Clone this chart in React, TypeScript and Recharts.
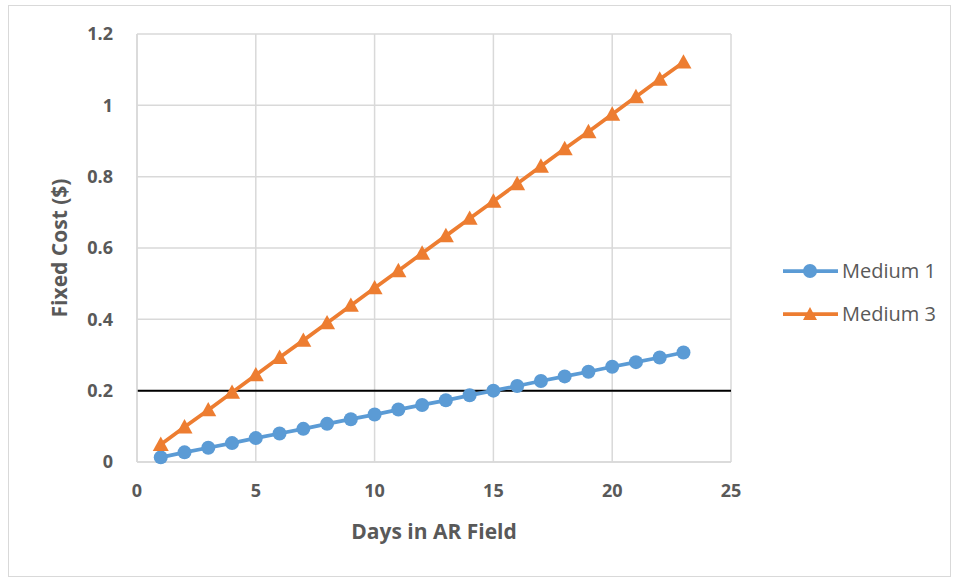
import { LineChart, Line, XAxis, YAxis, CartesianGrid, Legend, ReferenceLine } from 'recharts';

const days = [1, 2, 3, 4, 5, 6, 7, 8, 9, 10, 11, 12, 13, 14, 15, 16, 17, 18, 19, 20, 21, 22, 23];
const medium1 = [0.013, 0.027, 0.04, 0.053, 0.067, 0.08, 0.093, 0.107, 0.12, 0.133, 0.147, 0.16, 0.173, 0.187, 0.2, 0.213, 0.227, 0.24, 0.253, 0.267, 0.28, 0.293, 0.307];
const medium3 = [0.049, 0.098, 0.146, 0.195, 0.244, 0.293, 0.341, 0.39, 0.439, 0.488, 0.536, 0.585, 0.634, 0.683, 0.731, 0.78, 0.829, 0.878, 0.926, 0.975, 1.024, 1.073, 1.121];
const xTicks = [0, 5, 10, 15, 20, 25];
const yTicks = [0, 0.2, 0.4, 0.6, 0.8, 1, 1.2];
const threshold = 0.2;

const data = days.map((d, i) => ({ day: d, m1: medium1[i], m3: medium3[i] }));

const BLUE = '#5B9BD5';
const ORANGE = '#ED7D31';
const TEXT = '#595959';
const FONT = '"Open Sans", sans-serif';

// Excel-style triangle marker
const Triangle = (props: any) => {
  const { cx, cy, fill } = props;
  if (cx == null || cy == null) return null;
  const s = 8;
  return <polygon points={`${cx},${cy - s} ${cx + s},${cy + s * 0.8} ${cx - s},${cy + s * 0.8}`} fill={fill} />;
};

const LegendBox = () => {
  const items = [
    { name: 'Medium 1', color: BLUE, shape: 'circle' },
    { name: 'Medium 3', color: ORANGE, shape: 'tri' },
  ];
  return (
    <div style={{ fontFamily: FONT }}>
      {items.map((it) => (
        <div key={it.name} style={{ display: 'flex', alignItems: 'center', height: 43 }}>
          <svg width={58} height={20}>
            <line x1={1} y1={10} x2={56} y2={10} stroke={it.color} strokeWidth={3.75} />
            {it.shape === 'circle' ? (
              <circle cx={28} cy={10} r={7} fill={it.color} />
            ) : (
              <polygon points="28,3 35,16 21,16" fill={it.color} />
            )}
          </svg>
          <span style={{ color: TEXT, fontSize: 20, marginLeft: 2 }}>{it.name}</span>
        </div>
      ))}
    </div>
  );
};

export default function App() {
  return (
    <div style={{ position: 'absolute', left: 0, top: 0, width: 958, height: 578, background: '#fff' }}>
      <div style={{ position: 'absolute', left: 8, top: 5, width: 941, height: 570, border: '1px solid #d9d9d9' }} />
      <LineChart width={958} height={578} data={data} margin={{ top: 34, right: 57, bottom: 0, left: 0 }}>
        <CartesianGrid stroke="#d9d9d9" strokeWidth={1.5} />
        <XAxis
          dataKey="day"
          type="number"
          domain={[0, 25]}
          ticks={xTicks}
          tickLine={false}
          axisLine={{ stroke: '#d9d9d9', strokeWidth: 1.5 }}
          tick={{ fill: TEXT, fontSize: 18, fontWeight: 700, fontFamily: FONT }}
          tickSize={0}
          tickMargin={22}
          height={116}
          label={{ value: 'Days in AR Field', position: 'insideTop', offset: 62, fill: TEXT, fontSize: 21, fontWeight: 700, fontFamily: FONT }}
        />
        <YAxis
          type="number"
          domain={[0, 1.2]}
          ticks={yTicks}
          tickLine={false}
          axisLine={{ stroke: '#d9d9d9', strokeWidth: 1.5 }}
          tick={{ fill: TEXT, fontSize: 18, fontWeight: 700, fontFamily: FONT }}
          tickSize={0}
          tickMargin={24}
          width={137}
          label={{ value: 'Fixed Cost ($)', angle: -90, position: 'insideLeft', offset: 60, fill: TEXT, fontSize: 21, fontWeight: 700, fontFamily: FONT, style: { textAnchor: 'middle' } }}
        />
        <ReferenceLine y={threshold} stroke="#000" strokeWidth={2} />
        <Line dataKey="m1" name="Medium 1" stroke={BLUE} strokeWidth={3.75} dot={{ r: 7, fill: BLUE, stroke: 'none' }} isAnimationActive={false} />
        <Line dataKey="m3" name="Medium 3" stroke={ORANGE} strokeWidth={3.75} dot={<Triangle fill={ORANGE} />} isAnimationActive={false} />
        <Legend layout="vertical" align="right" verticalAlign="top" content={<LegendBox />} wrapperStyle={{ left: 782, top: 249, width: 170 }} />
      </LineChart>
    </div>
  );
}
